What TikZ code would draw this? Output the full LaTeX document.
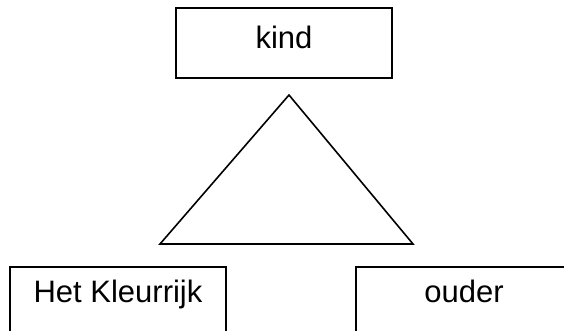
\documentclass[tikz,border=0pt]{standalone}
\usepackage{fontspec}
\setmainfont{Liberation Sans}
\begin{document}
\begin{tikzpicture}[x=0.5pt,y=-0.5pt,
    box/.style={draw,line width=0.8pt,minimum width=108pt,minimum height=35pt,
      inner sep=0pt,text height=11pt,font=\fontsize{15.5}{18}\selectfont}]
  \useasboundingbox (0,0) rectangle (564,331);
  \clip (0,0) rectangle (564,331);
  \node[box,text depth=5pt] (kind) at (284,43) {kind};
  \node[box,text depth=10pt] (school) at (118,302) {Het Kleurrijk};
  \node[box,text depth=10pt] (ouder) at (464,302) {ouder};
  \coordinate (top) at (289,95);
  \coordinate (left) at (160,244);
  \coordinate (right) at (413,244);
  \draw[line width=0.8pt] (top) -- (right) -- (left) -- cycle;
\end{tikzpicture}
\end{document}
